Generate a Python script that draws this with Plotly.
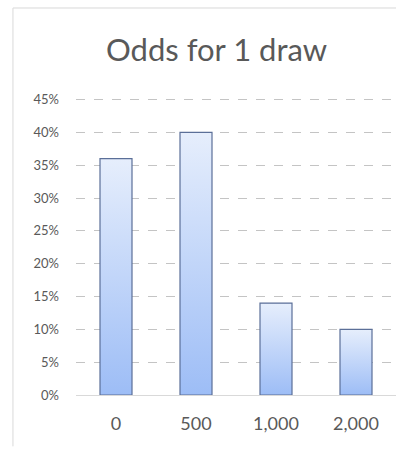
import plotly.graph_objects as go

# Prize amounts and the chance of each on a single draw (percent)
categories = ["0", "500", "1,000", "2,000"]
odds_pct = [36, 40, 14, 10]
y_ticks = [0, 5, 10, 15, 20, 25, 30, 35, 40, 45]
y_tick_labels = [f"{t}%" for t in y_ticks]

BAR_HALF = 0.2
TEXT_GREY = "#595959"
FONT = "Lato, Open Sans, sans-serif"

fig = go.Figure()

# Each column is a filled outline so it can carry a vertical gradient
for i, v in enumerate(odds_pct):
    xs = [i - BAR_HALF, i - BAR_HALF, i + BAR_HALF, i + BAR_HALF, i - BAR_HALF]
    ys = [0, v, v, 0, 0]
    fig.add_trace(go.Scatter(
        x=xs, y=ys, mode="lines", fill="toself",
        line=dict(color="#5b6f98", width=1.2),
        fillgradient=dict(
            type="vertical",
            colorscale=[[0, "#9dbdf6"], [1, "#e6eefc"]],
        ),
        hoverinfo="skip", showlegend=False,
    ))

fig.update_layout(
    width=411, height=453,
    margin=dict(l=76, r=15, t=93, b=58),
    paper_bgcolor="white", plot_bgcolor="white",
    title=dict(
        text="Odds for 1 draw", x=0.527, xanchor="center",
        y=0.89, yanchor="middle",
        font=dict(family=FONT, size=31, color=TEXT_GREY),
    ),
    xaxis=dict(
        range=[-0.5, 3.5], tickvals=list(range(len(categories))),
        ticktext=categories, showgrid=False, zeroline=False,
        showline=False, ticks="", ticklabelstandoff=16,
        tickfont=dict(family=FONT, size=18, color=TEXT_GREY),
    ),
    yaxis=dict(
        range=[0, 46], tickvals=y_ticks, ticktext=y_tick_labels,
        showgrid=True, gridcolor="#c4c4c4", griddash="dash", gridwidth=1,
        zeroline=True, zerolinecolor="#d9d9d9", zerolinewidth=1,
        showline=False, ticks="", ticklabelstandoff=16,
        tickfont=dict(family=FONT, size=13, color=TEXT_GREY),
    ),
    shapes=[
        dict(type="line", xref="paper", yref="paper",
             x0=-0.197, x1=1.0, y0=1.2815, y1=1.2815,
             line=dict(color="#d9d9d9", width=1)),
        dict(type="line", xref="paper", yref="paper",
             x0=-0.197, x1=-0.197, y0=-0.17, y1=1.2815,
             line=dict(color="#d9d9d9", width=1)),
    ],
)

fig.write_html("out.html")
